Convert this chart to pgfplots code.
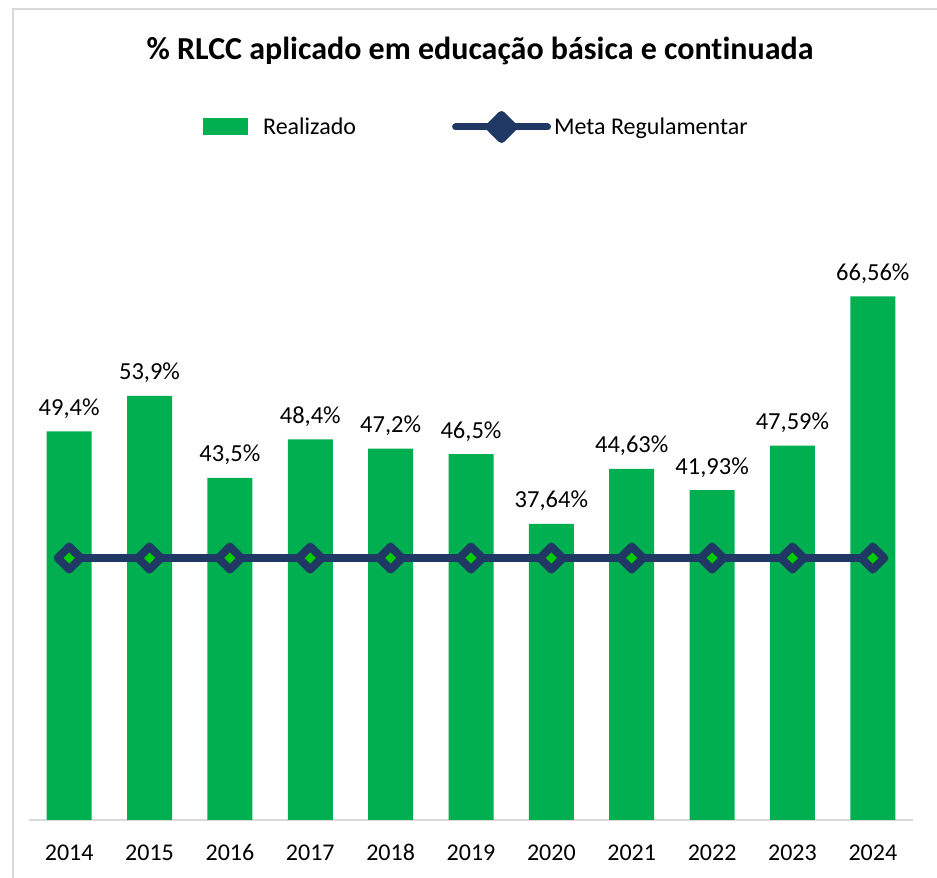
\documentclass[border=0pt]{standalone}
\usepackage{fontspec}
\setmainfont[Ligatures=NoCommon]{Carlito}
\usepackage{pgfplots}
\pgfplotsset{compat=1.18}
\definecolor{verde}{HTML}{00B050}
\definecolor{navy}{HTML}{203864}
\definecolor{marca}{HTML}{00CC00}
\definecolor{moldura}{HTML}{D9D9D9}

\begin{document}
\begin{tikzpicture}[x=1pt,y=1pt]
\path[use as bounding box] (0,0) rectangle (937,878);
\draw[moldura, line width=2pt] (13,0) -- (13,869) -- (937,869);
\node[anchor=base, font=\fontsize{32}{36}\selectfont\bfseries] at (480,818)
  {\% RLCC aplicado em educação básica e continuada};
\begin{axis}[
  at={(29pt,58pt)}, anchor=south west,
  scale only axis, width=884pt, height=590pt,
  xmin=-0.5, xmax=10.5, ymin=0, ymax=75,
  axis y line=none, axis x line=bottom,
  x axis line style={-, draw=moldura, line width=2pt},
  xtick={0,...,10},
  xticklabels={2014,2015,2016,2017,2018,2019,2020,2021,2022,2023,2024},
  major tick length=0pt,
  xticklabel style={anchor=base, yshift=-40pt, font=\fontsize{24}{28}\selectfont},
  clip=false,
  legend columns=2,
  legend style={at={(0.1968,1.1746)}, anchor=west, draw=none, fill=none,
    inner sep=0pt, font=\fontsize{24}{28}\selectfont,
    nodes={inner sep=3pt},
    /tikz/every even column/.append style={column sep=93pt}},
  ]
\addplot[ybar, bar width=45pt, fill=verde, draw=none,
  nodes near coords, point meta=explicit symbolic,
  nodes near coords style={anchor=base, yshift=16pt, inner sep=0pt,
    font=\fontsize{24.5}{28}\selectfont, text=black},
  legend image code/.code={\fill[verde] (0pt,-8.5pt) rectangle (45pt,8.5pt);
    \path (57pt,0pt);}]
  table[meta=lab] {
  x y lab
  0 49.4 {49,4\%}
  1 53.9 {53,9\%}
  2 43.5 {43,5\%}
  3 48.4 {48,4\%}
  4 47.2 {47,2\%}
  5 46.5 {46,5\%}
  6 37.64 {37,64\%}
  7 44.63 {44,63\%}
  8 41.93 {41,93\%}
  9 47.59 {47,59\%}
  10 66.56 {66,56\%}
  };
\addlegendentry{Realizado}
\addplot[navy, line width=8pt, line join=round,
  mark=square*, mark size=8.1pt,
  mark options={rotate=45, fill=marca, draw=navy, line width=8pt, line join=round},
  legend image code/.code={
    \draw[navy, line width=7pt, line cap=round] (0pt,0pt) -- (92pt,0pt);
    \fill[navy] (46pt,-12pt) -- (58pt,0pt) -- (46pt,12pt) -- (34pt,0pt) -- cycle;}]
  coordinates {(0,33.3) (1,33.3) (2,33.3) (3,33.3) (4,33.3) (5,33.3)
    (6,33.3) (7,33.3) (8,33.3) (9,33.3) (10,33.3)};
\addlegendentry{Meta Regulamentar}
\end{axis}
\end{tikzpicture}
\end{document}
